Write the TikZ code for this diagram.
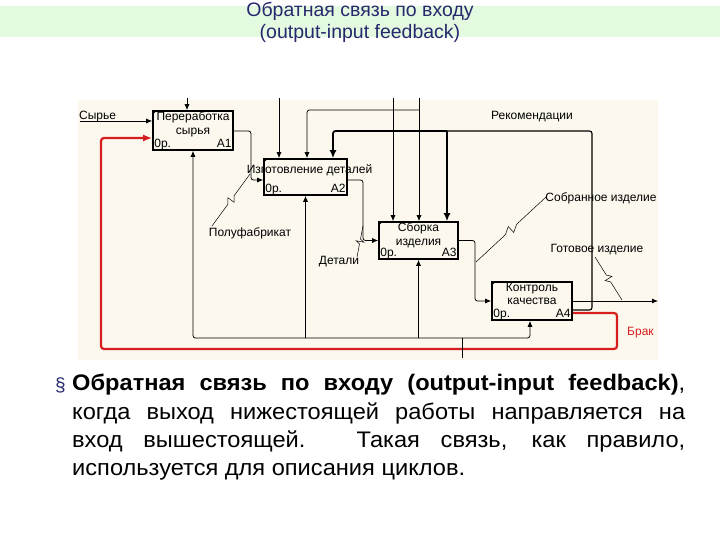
\documentclass[tikz,border=0pt]{standalone}
\usepackage{fontspec}
\setmainfont{Liberation Sans}
\newfontfamily\bodyfont[FakeStretch=1.05]{Liberation Sans}
\usetikzlibrary{positioning, arrows.meta, calc}

\definecolor{panel}{RGB}{252,248,238}
\definecolor{band}{RGB}{228,250,224}
\definecolor{navy}{RGB}{40,40,110}
\definecolor{brak}{RGB}{215,30,30}

% leader line with a small zigzag in the middle
\newcommand{\zigline}[2]{\draw[lead] (#1) -- ($(#1)!0.42!(#2)$) -- ($(#1)!0.5!(#2)!4pt!90:(#2)$) -- ($(#1)!0.5!(#2)!4pt!-90:(#2)$) -- ($(#1)!0.58!(#2)$) -- (#2);}

\begin{document}
\begin{tikzpicture}[
    x=1pt, y=-1pt,
    font=\fontsize{12}{13.5}\selectfont,
    box/.style={draw=black, line width=1.6pt, inner sep=0pt},
    lab/.style={inner sep=0pt},
    arr/.style={draw=black, line width=0.8pt, rounded corners=2.5pt, -{Latex[length=6pt,width=5pt]}},
    tarr/.style={draw=black, line width=1.8pt, rounded corners=2.5pt, -{Latex[length=8pt,width=7pt]}},
    fb/.style={draw=brak, line width=2.2pt, rounded corners=3pt, -{Latex[length=9pt,width=7pt]}},
    lead/.style={draw=black, line width=0.5pt}
]
\useasboundingbox (0,0) rectangle (720,540);
% title
\fill[band] (0,6) rectangle (720,37);
\node[lab, anchor=base, text=navy, font=\fontsize{19.5}{22}\selectfont] (title1) at (360,16.5) {Обратная связь по входу};
\node[lab, anchor=base, text=navy, font=\fontsize{19.5}{22}\selectfont] (title2) at (360,38.5) {(output-input feedback)};
% diagram panel
\fill[panel] (78,100) rectangle (658,360);
% activities
\node[box, minimum width=80pt, minimum height=39pt] (a1) at (193,130.5) {};
\node[box, minimum width=83pt, minimum height=36pt] (a2) at (305.5,177) {};
\node[box, minimum width=79pt, minimum height=37pt] (a3) at (418.5,240.5) {};
\node[box, minimum width=80pt, minimum height=38pt] (a4) at (532,301) {};
\node[lab, align=center, anchor=north] (a1t) at ([yshift=-1.5pt]a1.north) {Переработка\\сырья};
\node[lab, anchor=north] (a2t) at ([xshift=4pt,yshift=-6pt]a2.north) {Изготовление деталей};
\node[lab, align=center, anchor=north] (a3t) at ([yshift=-1.5pt]a3.north) {Сборка\\изделия};
\node[lab, align=center, anchor=north] (a4t) at ([yshift=-1.5pt]a4.north) {Контроль\\качества};
\foreach \b/\i in {a1/1,a2/2,a3/3,a4/4}{
  \node[lab, anchor=base west] (o\i) at ([xshift=2pt,yshift=3.5pt]\b.south west) {0р.};
  \node[lab, anchor=base east] (n\i) at ([xshift=-2pt,yshift=3.5pt]\b.south east) {A\i};
  \fill (\b.north west) -- ++(5pt,0pt) -- ++(-5pt,-5pt) -- cycle;
}
% input
\node[lab, anchor=base west] (syrl) at (79,119.5) {Сырье};
\coordinate (syr) at (80,121);
\draw[arr] (syr) -- ([yshift=9.5pt]a1.west);
% feedback from A4 to A1
\draw[fb] ([yshift=-12pt]a4.east) -| (617,349) -| (101,138) -- ([yshift=-7.5pt]a1.west);
\node[lab, anchor=west, text=brak] (brakl) at (627,333) {Брак};
% outputs
\draw[arr] ([yshift=-0.5pt]a1.east) -| (251,180) -- ([yshift=-3pt]a2.west);
\draw[arr] ([yshift=-3pt]a2.east) -| (363,240.5) -- (a3.west);
\draw[arr] (a3.east) -| (475,301) -- (a4.west);
\coordinate (gotov) at (658,301);
\draw[arr] (a4.east) -- (gotov);
% output-control feedback
\coordinate (rk) at (447,131);
\coordinate (rk2) at (333,131);
\draw[black, line width=1.1pt, rounded corners=2.5pt] ([yshift=-9pt]a4.east) -| (592,131) -- (rk);
\draw[tarr] (rk) -- (a3.north -| rk);
\draw[tarr] (rk) -- (rk2) -- (a2.north -| rk2);
% controls
\foreach \x/\b in {187/a1,279/a2,393/a3,419/a3}{
  \coordinate (c\x) at (\x,98);
  \draw[arr] (c\x) -- (\b.north -| c\x);
}
\coordinate (cb) at (307,110);
\draw[arr] (c419 |- cb) -- (cb) -- (a2.north -| cb);
% mechanisms
\coordinate (m0) at (462,358);
\coordinate (mj) at (462,338);
\draw[black, line width=0.8pt] (m0) -- (mj);
\draw[arr] (mj) -| (a1.south);
\draw[arr] (mj -| a2.south) -- (a2.south);
\draw[arr] (mj -| a3.south) -- (a3.south);
\draw[arr] (mj) -| ([xshift=-2pt]a4.south);
% arrow labels
\node[lab] (pfl) at (250,233) {Полуфабрикат};
\node[lab] (detl) at (339,262) {Детали};
\node[lab] (sobl) at (601,198) {Собранное изделие};
\node[lab] (gotl) at (597,250) {Готовое изделие};
\node[lab] (reml) at (532,117) {Рекомендации};
\coordinate (pf1) at (212,226);   \coordinate (pf2) at (250,174);
\coordinate (dt1) at (357,257);   \coordinate (dt2) at (363,226);
\coordinate (sb1) at (546,197);   \coordinate (sb2) at (476,262);
\coordinate (gt1) at (595,257);   \coordinate (gt2) at (622,300);
\zigline{pf1}{pf2}
\zigline{dt1}{dt2}
\zigline{sb1}{sb2}
\zigline{gt1}{gt2}
% text below
\node[lab, anchor=base west, text=navy, font=\fontsize{19}{20}\selectfont] (bul) at (55,391) {§};
\node[lab, anchor=north west, text width=613pt, align=justify,
      font=\bodyfont\fontsize{22.5}{28.4}\selectfont] (body) at (72,374)
  {\hyphenpenalty=10000
   \textbf{Обратная связь по входу (output-input feedback)},\linebreak
   когда выход нижестоящей работы направляется на\linebreak
   вход вышестоящей. Такая связь, как правило,\linebreak
   используется для описания циклов.};
\end{tikzpicture}
\end{document}
